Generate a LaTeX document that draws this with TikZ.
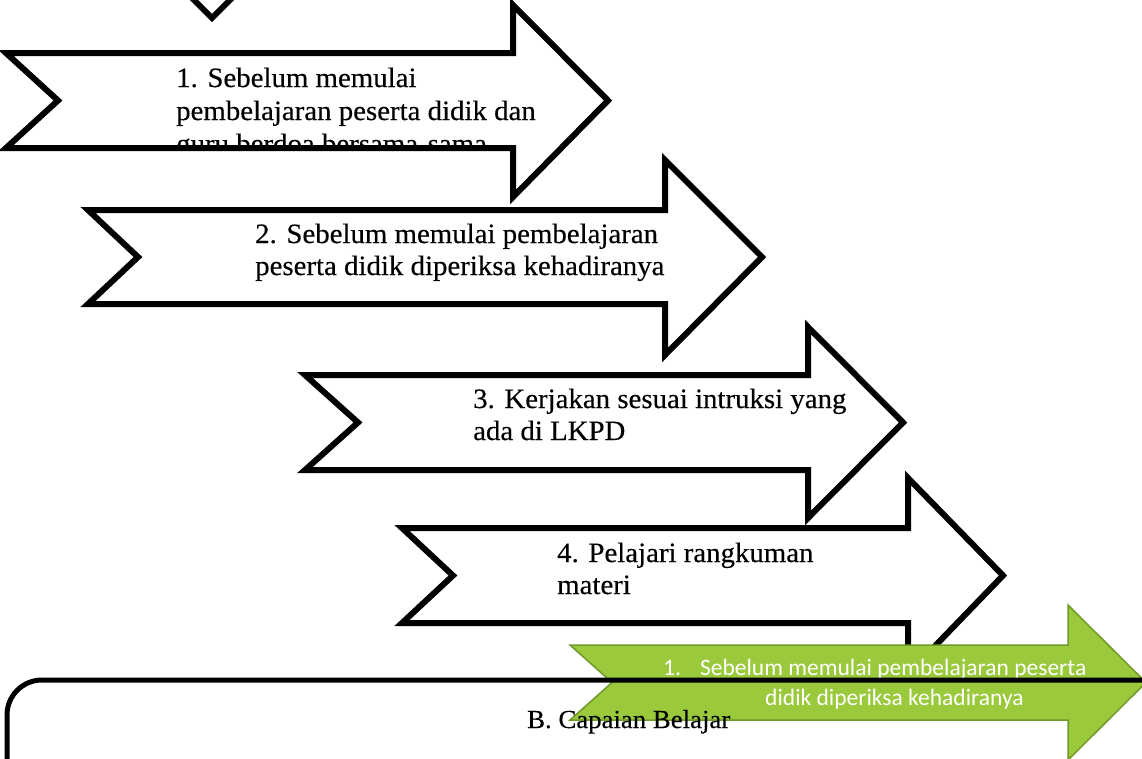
\documentclass[tikz,border=0pt]{standalone}
\usepackage{fontspec}
\setmainfont{Liberation Serif}[FakeStretch=1.03,FakeBold=0.3]
\newfontfamily\calibriish{Carlito}
\definecolor{greenfill}{HTML}{9ACA3C}
\definecolor{greenedge}{HTML}{71992A}
\newcommand\NArrow[9]{%
  \draw[#9] (#1,#2) -- (#5,#2) -- (#5,#6) -- (#8,{(#2+#3)/2}) -- (#5,#7) -- (#5,#3) -- (#1,#3) -- (#4,{(#2+#3)/2}) -- cycle;}
\begin{document}
\begin{tikzpicture}[x=1pt,y=-1pt,
  blk/.style={draw=black,line width=6pt,fill=white,line join=miter},
  grn/.style={draw=greenedge,line width=1.5pt,fill=greenfill,line join=miter},
  txt/.style={anchor=base west,inner sep=0pt,font=\fontsize{28}{33}\selectfont},
  gtxt/.style={anchor=base west,inner sep=0pt,text=white,font=\calibriish\fontsize{23.5}{30}\selectfont},
  boxline/.style={draw=black,line width=5pt,rounded corners=35pt}]
\useasboundingbox (0,0) rectangle (1142,758);
\clip (0,0) rectangle (1142,758);
\fill[white] (0,0) rectangle (1142,758);
% cut-off tip at the top
\draw[line width=6pt,line join=miter] (188,-6) -- (212,18) -- (236,-6);
% arrow 1
\NArrow{6}{53}{148}{58}{513}{5}{197}{608}{blk}
\node[txt] (t1a) at (176,87) {1. Sebelum memulai};
\node[txt] (t1b) at (176,120) {pembelajaran peserta didik dan};
\begin{scope}
\clip (0,0) rectangle (1142,145);
\node[txt] (t1c) at (176,153) {guru berdoa bersama-sama};
\end{scope}
% arrow 2
\NArrow{88}{210}{304}{138}{665}{160}{355}{762}{blk}
\node[txt] (t2a) at (255,243) {2. Sebelum memulai pembelajaran};
\node[txt] (t2b) at (255,275) {peserta didik diperiksa kehadiranya};
% arrow 3
\NArrow{305}{375}{470}{358}{808}{327}{518}{903}{blk}
\node[txt] (t3a) at (473,408) {3. Kerjakan sesuai intruksi yang};
\node[txt] (t3b) at (473,440) {ada di LKPD};
% arrow 4
\NArrow{402}{528}{623}{453}{908}{478}{674}{1003}{blk}
\node[txt] (t4a) at (557,562) {4. Pelajari rangkuman};
\node[txt] (t4b) at (557,594) {materi};
% green arrow
\NArrow{570}{645}{720}{612}{1068}{605}{760}{1146}{grn}
\node[gtxt] (g1) at (663,675) {1.\hspace{19pt}Sebelum memulai pembelajaran peserta};
\node[gtxt] (g2) at (765,705) {didik diperiksa kehadiranya};
% rounded box
\draw[boxline] (1200,680) -- (7,680) -- (7,800);
\node[txt,font=\fontsize{26}{31}\selectfont] (capaian) at (527,728) {B. Capaian Belajar};
\end{tikzpicture}
\end{document}
